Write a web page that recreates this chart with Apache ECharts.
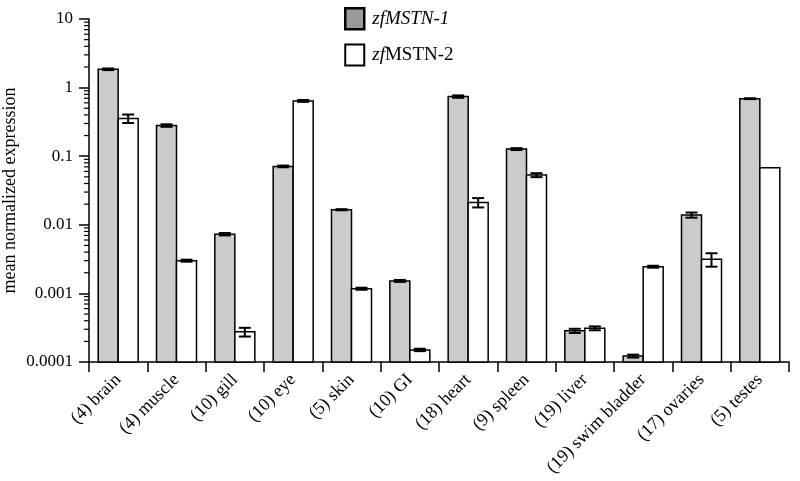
<!DOCTYPE html>
<html><head><meta charset="utf-8">
<script src="https://cdn.jsdelivr.net/npm/echarts@6/dist/echarts.min.js"></script>
<style>html,body{margin:0;padding:0;background:#fff}#c{width:800px;height:481px}</style>
</head><body><div id="c"></div>
<script>
const categories = ['(4) brain','(4) muscle','(10) gill','(10) eye','(5) skin','(10) GI','(18) heart','(9) spleen','(19) liver','(19) swim bladder','(17) ovaries','(5) testes'];
const mstn1 = [1.85, 0.28, 0.0073, 0.071, 0.0166, 0.00152, 0.74, 0.127, 0.000285, 0.000122, 0.0139, 0.69];
const mstn1Err = [0.05, 0.012, 0.0003, 0.002, 0.0003, 0.00005, 0.03, 0.004, 0.00002, 0.000006, 0.0012, 0.01];
const mstn2 = [0.355, 0.0030, 0.000275, 0.64, 0.00117, 0.00015, 0.0212, 0.053, 0.00031, 0.00245, 0.00315, 0.068];
const mstn2Err = [0.05, 0.0001, 0.00004, 0.02, 0.00004, 0.000006, 0.0033, 0.0035, 0.00002, 0.00008, 0.0007, 0];
const yTicks = [0.0001, 0.001, 0.01, 0.1, 1, 10];

// log minor tick positions (axis decoration)
const minorTicks = [];
for (let d = 0; d < yTicks.length - 1; d++) {
  for (let m = 2; m <= 9; m++) minorTicks.push(+(yTicks[d] * m).toPrecision(2));
}

const FONT = 'Liberation Serif';
const BAR_W = 20;
const chart = echarts.init(document.getElementById('c'), null, {renderer: 'canvas'});

function seriesData(vals, errs, side) {
  return vals.map((v, i) => [i, v, errs[i], side]);
}
function makeBarRender(fill) {
  return function (params, api) {
    const i = api.value(0), v = api.value(1), e = api.value(2), side = api.value(3);
    const cs = params.coordSys;
    const c = api.coord([i, v]);
    const cx = c[0] + side * BAR_W / 2;
    const bottom = cs.y + cs.height;
    const children = [{
      type: 'rect',
      shape: {x: cx - BAR_W / 2, y: c[1], width: BAR_W, height: bottom - c[1]},
      style: {fill: fill, stroke: '#000', lineWidth: 1.5}
    }];
    if (e) {
      const top = api.coord([i, v + e])[1];
      const bot = api.coord([i, Math.max(v - e, 1e-6)])[1];
      const hw = 6, st = {stroke: '#000', lineWidth: 2};
      children.push(
        {type: 'line', shape: {x1: cx, y1: top, x2: cx, y2: bot}, style: st},
        {type: 'line', shape: {x1: cx - hw, y1: top, x2: cx + hw, y2: top}, style: st},
        {type: 'line', shape: {x1: cx - hw, y1: bot, x2: cx + hw, y2: bot}, style: st});
    }
    return {type: 'group', children: children};
  };
}

chart.setOption({
  animation: false,
  backgroundColor: '#fff',
  textStyle: {fontFamily: FONT},
  grid: {left: 89, right: 11, top: 19, bottom: 119, containLabel: false, outerBoundsMode: 'none'},
  legend: {
    orient: 'vertical', left: 339, top: 2, itemWidth: 19, itemHeight: 21, itemGap: 13,
    icon: 'rect',
    data: [
      {name: 'zfMSTN-1', itemStyle: {color: '#9a9a9a', borderColor: '#000', borderWidth: 2.5}},
      {name: 'zfMSTN-2', itemStyle: {color: '#fff', borderColor: '#000', borderWidth: 2}}
    ],
    formatter: n => n === 'zfMSTN-1' ? '{i|zfMSTN-1}' : '{i|zf}{n|MSTN-2}',
    textStyle: {fontFamily: FONT, fontSize: 19, color: '#000', padding: [0,0,0,3],
      rich: {i: {fontFamily: FONT, fontSize: 19, fontStyle: 'italic', color: '#000'},
             n: {fontFamily: FONT, fontSize: 19, color: '#000'}}}
  },
  xAxis: {
    type: 'category', data: categories,
    axisLine: {lineStyle: {color: '#000', width: 1.5}},
    axisTick: {show: true, alignWithLabel: false, length: 10, lineStyle: {color: '#000', width: 1.5}},
    axisLabel: {rotate: 45, fontFamily: FONT, fontSize: 18, color: '#000', margin: 15, interval: 0}
  },
  yAxis: {
    type: 'log', min: 0.0001, max: 10, logBase: 10,
    name: 'mean normalized expression', nameLocation: 'middle', nameGap: 70,
    nameMoveOverlap: false,
    nameTextStyle: {fontFamily: FONT, fontSize: 18, color: '#000'},
    axisLine: {show: true, lineStyle: {color: '#000', width: 1.5}},
    axisTick: {show: true, length: 10, lineStyle: {color: '#000', width: 1.5}},
    axisLabel: {fontFamily: FONT, fontSize: 17, color: '#000', margin: 16,
      formatter: v => String(+(+v).toPrecision(1))},
    splitLine: {show: false}
  },
  series: [
    {name: 'zfMSTN-1', type: 'custom', data: seriesData(mstn1, mstn1Err, -1),
     renderItem: makeBarRender('#cbcbcb'), itemStyle: {color: '#9a9a9a'}, silent: true, z: 3},
    {name: 'zfMSTN-2', type: 'custom', data: seriesData(mstn2, mstn2Err, 1),
     renderItem: makeBarRender('#ffffff'), itemStyle: {color: '#fff'}, silent: true, z: 3},
    {type: 'custom', silent: true, z: 6,
     data: minorTicks.map(v => [0, v]),
     renderItem: (params, api) => {
       const y = api.coord([0, api.value(1)])[1];
       const x0 = params.coordSys.x;
       return {type: 'line', shape: {x1: x0 - 5, y1: y, x2: x0, y2: y}, style: {stroke: '#000', lineWidth: 1.2}};
     }}
  ]
});
</script></body></html>
